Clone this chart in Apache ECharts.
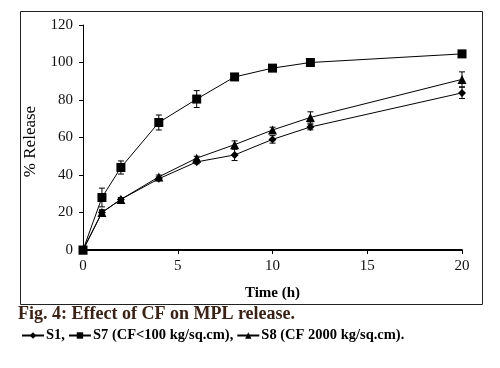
<!DOCTYPE html>
<html><head><meta charset="utf-8">
<script src="https://cdn.jsdelivr.net/npm/echarts@6/dist/echarts.min.js"></script>
<style>html,body{margin:0;padding:0;background:#fff}#c{width:500px;height:368px}</style>
</head><body><div id="c"></div>
<script>
var time = [0, 1, 2, 4, 6, 8, 10, 12, 20];
var s1 = [0, 20, 27, 38, 47, 50.7, 59, 65.6, 83.8];
var s7 = [0, 28, 44, 68, 80.5, 92.3, 97, 100, 104.6];
var s8 = [0, 20, 27, 39, 49, 56.2, 64, 70.7, 91];
var s1Err = [0, 1, 1, 1, 1, 3, 2, 1.5, 3];
var s7Err = [0, 5, 3.5, 4, 4.5, 1, 1, 1, 1];
var s8Err = [0, 1.5, 1, 1, 1, 2, 1.5, 3, 4];
var names = ['S1', 'S7 (CF<100 kg/sq.cm)', 'S8 (CF 2000 kg/sq.cm)'];
var legendText = {'S1': 'S1,', 'S7 (CF<100 kg/sq.cm)': 'S7 (CF<100 kg/sq.cm),', 'S8 (CF 2000 kg/sq.cm)': 'S8 (CF 2000 kg/sq.cm).'};
var yTicks = [0, 20, 40, 60, 80, 100, 120];
var xTicks = [0, 5, 10, 15, 20];

function pairs(v) { return time.map(function (t, i) { return [t, v[i]]; }); }
function errData(v, e) { return time.map(function (t, i) { return [t, v[i] - e[i], v[i] + e[i]]; }); }
function errSeries(v, e) {
  return {
    type: 'custom', silent: true, z: 1,
    data: errData(v, e),
    renderItem: function (params, api) {
      var lo = api.coord([api.value(0), api.value(1)]);
      var hi = api.coord([api.value(0), api.value(2)]);
      var w = 3;
      var st = {stroke: '#000', lineWidth: 1};
      return {type: 'group', children: [
        {type: 'line', shape: {x1: lo[0], y1: lo[1], x2: hi[0], y2: hi[1]}, style: st},
        {type: 'line', shape: {x1: lo[0] - w, y1: lo[1], x2: lo[0] + w, y2: lo[1]}, style: st},
        {type: 'line', shape: {x1: hi[0] - w, y1: hi[1], x2: hi[0] + w, y2: hi[1]}, style: st}
      ]};
    }
  };
}
var serif = '"Liberation Serif", "DejaVu Serif", serif';
var chart = echarts.init(document.getElementById('c'));
chart.setOption({
  animation: false,
  textStyle: {fontFamily: serif},
  grid: {left: 83, right: 38, top: 25, bottom: 118},
  xAxis: {
    type: 'value', min: 0, max: 20, interval: 5,
    axisLine: {lineStyle: {color: '#000', width: 1.8}},
    axisTick: {show: true, length: 4, lineStyle: {color: '#000'}},
    axisLabel: {color: '#111', fontSize: 15, fontFamily: serif, margin: 9},
    splitLine: {show: false},
    name: 'Time (h)', nameLocation: 'middle', nameGap: 36,
    nameTextStyle: {color: '#000', fontSize: 15, fontWeight: 'bold', fontFamily: serif}
  },
  yAxis: {
    type: 'value', min: 0, max: 120, interval: 20,
    axisLine: {show: true, lineStyle: {color: '#000', width: 1}},
    axisTick: {show: true, length: 4, lineStyle: {color: '#000'}},
    axisLabel: {color: '#111', fontSize: 15, fontFamily: serif, margin: 10},
    splitLine: {show: false},
    name: '% Release', nameLocation: 'middle', nameGap: 44, nameRotate: 90,
    nameTextStyle: {color: '#000', fontSize: 17, fontFamily: serif, padding: [0, 0, 0, -8]}
  },
  legend: {
    left: 16, top: 323, itemGap: 3, itemWidth: 22, itemHeight: 8,
    data: names,
    formatter: function (n) { return legendText[n]; },
    textStyle: {color: '#000', fontSize: 14.5, fontWeight: 'bold', fontFamily: serif, padding: [0, 0, 0, -3]}
  },
  graphic: [
    {type: 'rect', left: 18, top: 9, shape: {width: 462, height: 293}, style: {fill: 'none', stroke: '#222', lineWidth: 1}, silent: true},
    {type: 'text', left: 18, top: 305, style: {text: 'Fig. 4: Effect of CF on MPL release.', fill: '#3a2216', font: 'bold 18px ' + serif}}
  ],
  series: [
    errSeries(s1, s1Err), errSeries(s7, s7Err), errSeries(s8, s8Err),
    {name: names[0], type: 'line', data: pairs(s1), symbol: 'diamond', symbolSize: 8, z: 3,
     lineStyle: {color: '#000', width: 1}, itemStyle: {color: '#000'}},
    {name: names[1], type: 'line', data: pairs(s7), symbol: 'rect', symbolSize: 9, z: 3,
     lineStyle: {color: '#000', width: 1}, itemStyle: {color: '#000'}},
    {name: names[2], type: 'line', data: pairs(s8), symbol: 'triangle', symbolSize: 9, z: 3,
     lineStyle: {color: '#000', width: 1}, itemStyle: {color: '#000'}}
  ]
});
</script></body></html>
